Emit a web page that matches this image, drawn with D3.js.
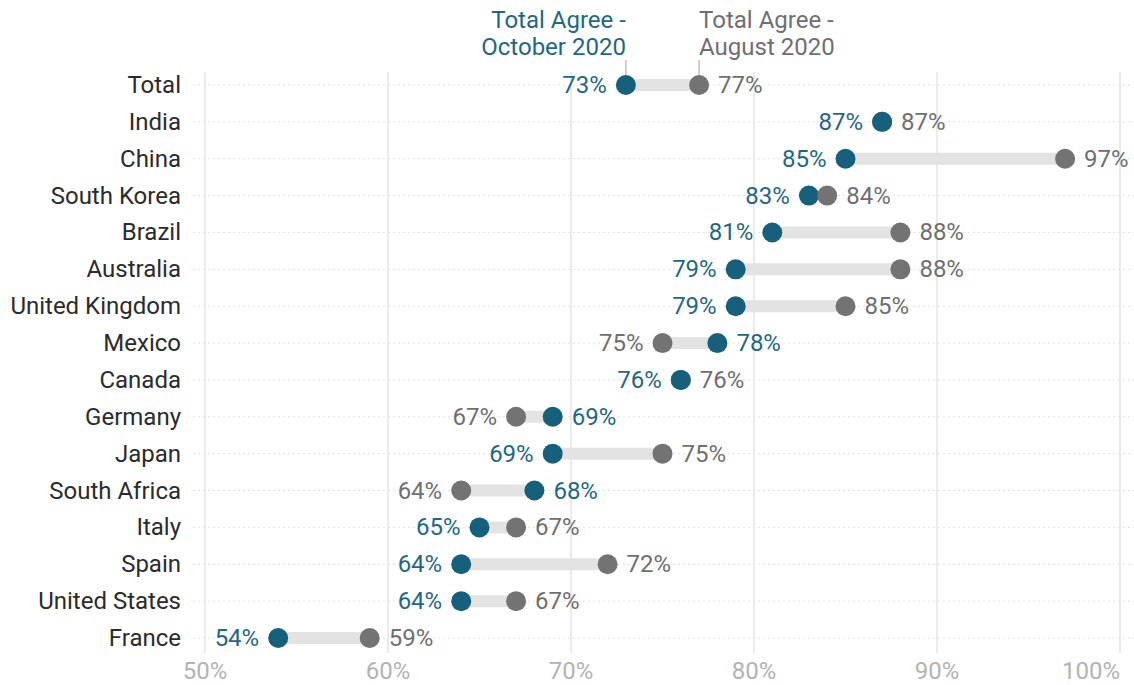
<!DOCTYPE html>
<html>
<head>
<meta charset="utf-8">
<script src="https://cdn.jsdelivr.net/npm/d3@7"></script>
<style>
  body { margin: 0; background: #fff; }
  text { font-family: Roboto, 'Noto Sans', sans-serif; }
</style>
</head>
<body>
<div id="chart"></div>
<script>
let countries = ['Total', 'India', 'China', 'South Korea', 'Brazil', 'Australia', 'United Kingdom', 'Mexico', 'Canada', 'Germany', 'Japan', 'South Africa', 'Italy', 'Spain', 'United States', 'France']
let october = [73, 87, 85, 83, 81, 79, 79, 78, 76, 69, 69, 68, 65, 64, 64, 54]
let august = [77, 87, 97, 84, 88, 88, 85, 75, 76, 67, 75, 64, 67, 72, 67, 59]
let ticks = [50, 60, 70, 80, 90, 100]

let width = 1134,
  height = 685,
  teal = '#17607b',
  tealText = '#1f6884',
  grey = '#737373',
  greyText = '#6f6f6f',
  fontSize = 24,
  dotR = 10,
  labelGap = 9 // space between dot edge and value label

let x = d3.scaleLinear()
  .domain([50, 100])
  .range([205, 1120])

let y = d3.scalePoint()
  .domain(countries)
  .range([85, 638])

let rows = countries.map((c, i) => ({ country: c, oct: october[i], aug: august[i] }))

let svg = d3.select('#chart').append('svg')
  .attr('width', width)
  .attr('height', height)

// vertical grid
svg.append('g').selectAll('line')
  .data(ticks)
  .enter().append('line')
  .attr('x1', d => x(d))
  .attr('x2', d => x(d))
  .attr('y1', 72)
  .attr('y2', 653)
  .attr('stroke', '#e4e4e4')
  .attr('stroke-width', 1.5)

// dotted row lines
svg.append('g').selectAll('line')
  .data(countries)
  .enter().append('line')
  .attr('x1', 193)
  .attr('x2', width)
  .attr('y1', d => y(d))
  .attr('y2', d => y(d))
  .attr('stroke', '#e2e2e2')
  .attr('stroke-dasharray', '2,3')

// x axis labels, last one kept inside the frame
svg.append('g').selectAll('text')
  .data(ticks)
  .enter().append('text')
  .attr('x', d => x(d))
  .attr('y', 679)
  .attr('text-anchor', (d, i) => i === ticks.length - 1 ? 'end' : 'middle')
  .attr('font-size', fontSize)
  .attr('fill', '#b3b3b3')
  .text(d => d + '%')

// row labels
svg.append('g').selectAll('text')
  .data(countries)
  .enter().append('text')
  .attr('x', 181)
  .attr('y', d => y(d) + 8)
  .attr('text-anchor', 'end')
  .attr('font-size', fontSize)
  .attr('fill', '#2b2b2b')
  .text(d => d)

// connectors
svg.append('g').selectAll('line')
  .data(rows)
  .enter().append('line')
  .attr('x1', d => x(d.oct))
  .attr('x2', d => x(d.aug))
  .attr('y1', d => y(d.country))
  .attr('y2', d => y(d.country))
  .attr('stroke', '#e3e3e3')
  .attr('stroke-width', 12)

// dots: the higher value goes on top, teal wins ties
let dots = []
rows.forEach(d => {
  let a = { country: d.country, v: d.aug, color: grey },
    o = { country: d.country, v: d.oct, color: teal }
  if (d.aug > d.oct) dots.push(o, a)
  else dots.push(a, o)
})

svg.append('g').selectAll('circle')
  .data(dots)
  .enter().append('circle')
  .attr('cx', d => x(d.v))
  .attr('cy', d => y(d.country))
  .attr('r', dotR)
  .attr('fill', d => d.color)

// value labels
let labels = []
rows.forEach(d => {
  let octLeft = d.oct <= d.aug
  labels.push({ country: d.country, v: d.oct, left: octLeft, color: tealText })
  labels.push({ country: d.country, v: d.aug, left: !octLeft, color: greyText })
})

svg.append('g').selectAll('text')
  .data(labels)
  .enter().append('text')
  .attr('x', d => x(d.v) + (d.left ? -(dotR + labelGap) : dotR + labelGap))
  .attr('y', d => y(d.country) + 8)
  .attr('text-anchor', d => d.left ? 'end' : 'start')
  .attr('font-size', fontSize)
  .attr('fill', d => d.color)
  .text(d => d.v + '%')

// series headers on the Total row
let head = svg.append('g')
let totalRow = rows[0]

let headers = [
  { v: totalRow.oct, lines: ['Total Agree -', 'October 2020'], anchor: 'end', color: tealText },
  { v: totalRow.aug, lines: ['Total Agree -', 'August 2020'], anchor: 'start', color: greyText }
]

headers.forEach(h => {
  head.append('line')
    .attr('x1', x(h.v))
    .attr('x2', x(h.v))
    .attr('y1', 60)
    .attr('y2', 75)
    .attr('stroke', '#b9aab2')
    .attr('stroke-width', 1.2)

  let t = head.append('text')
    .attr('x', x(h.v))
    .attr('y', 28)
    .attr('text-anchor', h.anchor)
    .attr('font-size', fontSize)
    .attr('fill', h.color)
  h.lines.forEach((line, i) => {
    t.append('tspan')
      .attr('x', x(h.v))
      .attr('dy', i ? 27 : 0)
      .text(line)
  })
})
</script>
</body>
</html>
